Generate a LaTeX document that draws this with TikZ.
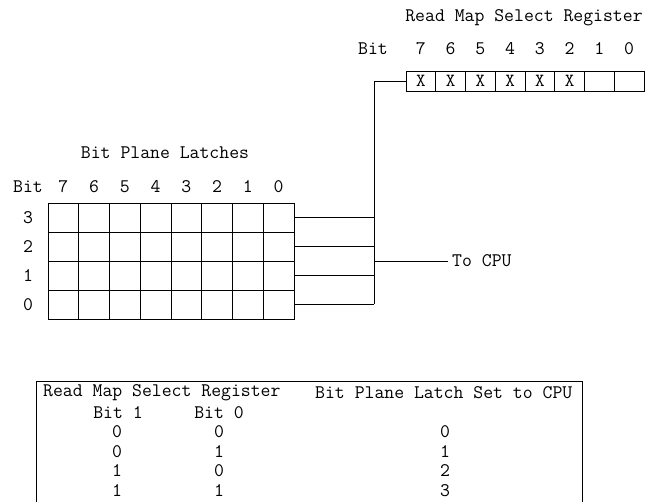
\documentclass[tikz,border=0pt]{standalone}
\usepackage{fontspec}
\usetikzlibrary{positioning}

\begin{document}
\begin{tikzpicture}[
    x=1pt, y=-1pt,
    mono/.style={font=\ttfamily\fontsize{19.2}{21}\selectfont, inner sep=0pt},
    regcell/.style={draw, line width=0.8pt, minimum width=29.75pt, minimum height=20pt, inner sep=0pt, font=\ttfamily\fontsize{18.5}{20}\selectfont},
    latchcell/.style={draw, line width=0.9pt, minimum width=30.75pt, minimum height=29pt, inner sep=0pt},
    wire/.style={line width=0.8pt}
  ]
    \useasboundingbox (0,0) rectangle (645,502);

    % read map select register
    \node[mono] (regtitle) at (524,18) {Read Map Select Register};
    \node[mono] (regbit) at (373,49) {Bit};
    \foreach \b/\v in {7/X,6/X,5/X,4/X,3/X,2/X,1/{},0/{}} {
      \node[regcell] (reg\b) at ({406+29.75*(7-\b+0.5)},81) {\v};
      \node[mono] (regno\b) at ({406+29.75*(7-\b+0.5)},49) {\b};
    }

    % bit plane latches
    \node[mono] (lattitle) at (165,153) {Bit Plane Latches};
    \node[mono] (latbit) at (28,187) {Bit};
    \foreach \c in {0,...,7} {
      \node[mono] (latno\c) at ({48+30.75*(7-\c+0.5)},187) {\c};
    }
    \foreach \r in {0,...,3} {
      \node[mono] (plane\r) at (28,{203+29*(3-\r+0.5)}) {\r};
      \foreach \c in {0,...,7} {
        \node[latchcell] (lat\r-\c) at ({48+30.75*(7-\c+0.5)},{203+29*(3-\r+0.5)}) {};
      }
    }

    % latches to cpu
    \coordinate (busbot) at (374,{203+29*3.5});
    \coordinate (tap) at (374,261);
    \node[mono, anchor=west, inner xsep=4pt] (cpu) at (448,261) {To CPU};
    \draw[wire] (reg7.west) -| (busbot);
    \foreach \r in {0,...,3} {
      \draw[wire] (lat\r-0.east) -- (lat\r-0.east -| busbot);
    }
    \draw[wire] (tap) -- (cpu.west);

    % selection table
    \coordinate (tabbl) at (36,502);
    \coordinate (tabtr) at (582,381);
    \draw[wire] (tabbl) |- (tabtr) -- (tabtr |- tabbl);
    \node[mono, anchor=west] (tabhead) at (43,393) {Read Map Select Register};
    \node[mono, anchor=west] (tabplane) at (315,393) {Bit Plane Latch Set to CPU};
    \node[mono] (tabbit1) at (118,413) {Bit 1};
    \node[mono] (tabbit0) at (219,413) {Bit 0};
    \foreach \i/\h/\l/\p in {0/0/0/0,1/0/1/1,2/1/0/2,3/1/1/3} {
      \node[mono] (hi\i) at (117,{432+19.5*\i}) {\h};
      \node[mono] (lo\i) at (219,{432+19.5*\i}) {\l};
      \node[mono] (set\i) at (445,{432+19.5*\i}) {\p};
    }
  \end{tikzpicture}
\end{document}
